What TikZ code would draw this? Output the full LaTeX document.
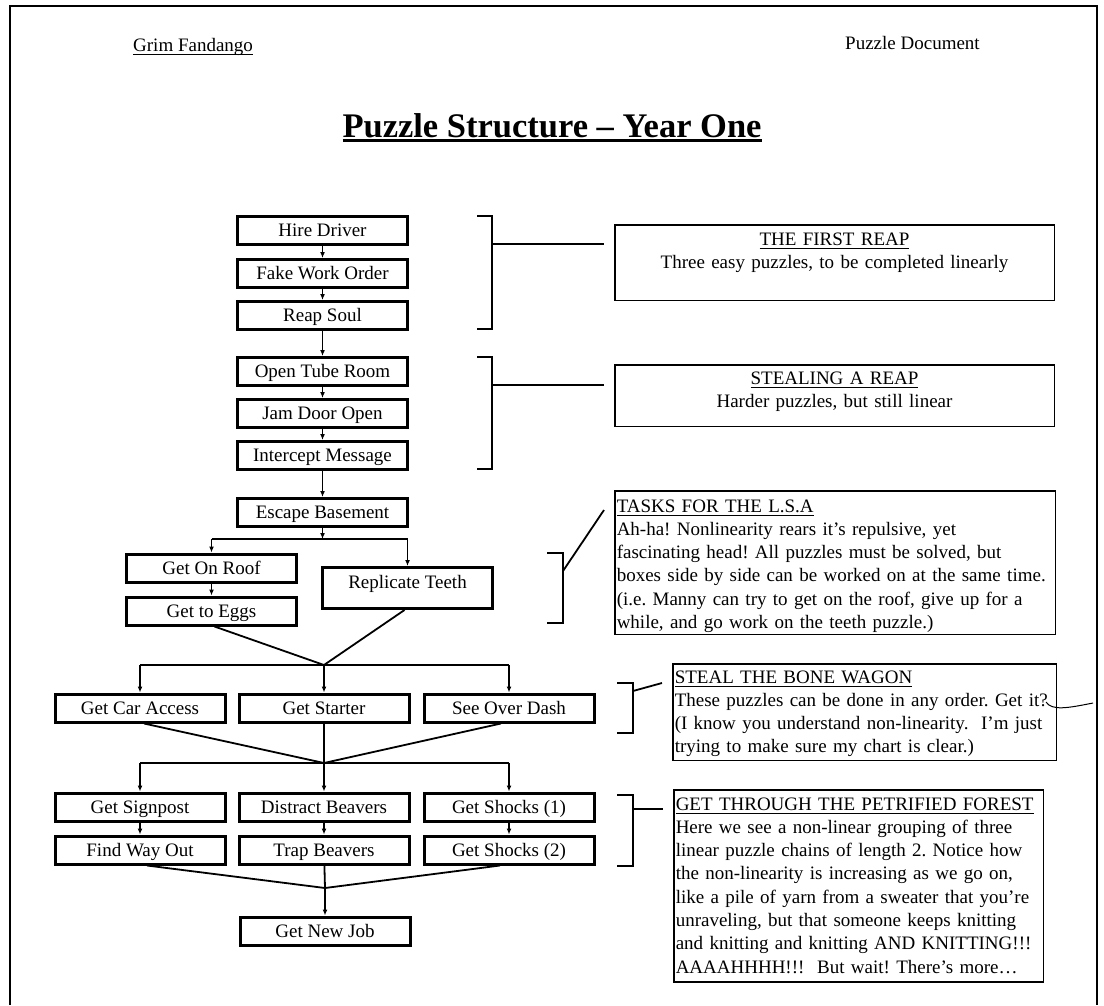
\documentclass[tikz,border=0pt]{standalone}
\usepackage{fontspec}
\setmainfont{Liberation Serif}
\usetikzlibrary{positioning, arrows.meta}
\newlength\ulwidth
\newcommand{\ulined}[2][1pt]{\settowidth{\ulwidth}{#2}\rlap{\rule[\dimexpr-3.5pt-#1/2\relax]{\ulwidth}{#1}}#2}
\tikzstyle{puzzle} = [draw, rectangle, line width=3pt, minimum width=170pt, minimum height=28pt, inner sep=0pt, text height=20pt, text depth=8pt]
\tikzstyle{teethbox} = [text height=20.5pt, text depth=20.5pt]
\tikzstyle{note} = [draw, rectangle, line width=1.5pt, inner xsep=2pt, inner ysep=0pt, anchor=north west, execute at begin node={\hyphenpenalty=10000\exhyphenpenalty=10000}]
\tikzstyle{flow} = [line width=1.5pt, -{Latex[length=6pt, width=5pt]}]
\tikzstyle{link} = [line width=1.8pt]
\tikzstyle{bracket} = [line width=2pt]

\begin{document}
\frenchspacing
\begin{tikzpicture}[x=1pt, y=-1pt, font=\fontsize{19}{23.3}\selectfont]
	\useasboundingbox (0,0) rectangle (1104,1005);
	\fill[white] (0,0) rectangle (1104,1005);
	%page frame
	\draw[line width=2pt] (9.5,1005) -- (9.5,6) -- (1097,6) -- (1097,1005);

	%header
	\node[inner sep=0pt, anchor=base west] (game) at (133,51) {\ulined[1.2pt]{Grim Fandango}};
	\node[inner sep=0pt, anchor=base west] (doctype) at (845,49) {Puzzle Document};
	\node[inner sep=0pt, anchor=base, font=\bfseries\fontsize{34.5}{40}\selectfont] (title) at (552,137) {\ulined[2.4pt]{Puzzle Structure – Year One}};

	%puzzles
	\node[puzzle] (hire) at (322.5,230.5) {Hire Driver};
	\node[puzzle, below=12pt of hire] (fakeorder) {Fake Work Order};
	\node[puzzle, below=11pt of fakeorder] (reapsoul) {Reap Soul};
	\node[puzzle, below=25pt of reapsoul] (tuberoom) {Open Tube Room};
	\node[puzzle, below=11pt of tuberoom] (jamdoor) {Jam Door Open};
	\node[puzzle, below=11pt of jamdoor] (intercept) {Intercept Message};
	\node[puzzle, below=26pt of intercept] (basement) {Escape Basement};
	\node[puzzle] (roof) at (211.5,568) {Get On Roof};
	\node[puzzle, below=12pt of roof] (eggs) {Get to Eggs};
	\node[puzzle, teethbox] (teeth) at (407.5,588) {Replicate Teeth};
	\node[puzzle] (starter) at (324,708) {Get Starter};
	\node[puzzle, left=11pt of starter] (caraccess) {Get Car Access};
	\node[puzzle, right=12pt of starter] (overdash) {See Over Dash};
	\node[puzzle] (beavers) at (324,807) {Distract Beavers};
	\node[puzzle, left=11pt of beavers] (signpost) {Get Signpost};
	\node[puzzle, right=12pt of beavers] (shocksone) {Get Shocks (1)};
	\node[puzzle, below=12pt of signpost] (wayout) {Find Way Out};
	\node[puzzle, below=12pt of beavers] (trap) {Trap Beavers};
	\node[puzzle, below=12pt of shocksone] (shockstwo) {Get Shocks (2)};
	\node[puzzle] (newjob) at (325,931) {Get New Job};

	%connections
	\draw[flow] (hire) -- (fakeorder);
	\draw[flow] (fakeorder) -- (reapsoul);
	\draw[flow] (reapsoul) -- (tuberoom);
	\draw[flow] (tuberoom) -- (jamdoor);
	\draw[flow] (jamdoor) -- (intercept);
	\draw[flow] (intercept) -- (basement);
	\coordinate (splitone) at (322.5,539);
	\draw[flow] (basement) -- (splitone);
	\draw[link] (splitone -| roof) -- (splitone -| teeth);
	\draw[flow] (splitone -| roof) -- (roof);
	\draw[flow] (splitone -| teeth) -- (teeth);
	\draw[flow] (roof) -- (eggs);
	\coordinate (joinone) at (324,665);
	\draw[link] ([xshift=3pt]eggs.south) -- (joinone) -- ([xshift=-3pt]teeth.south);
	\draw[link] (joinone -| caraccess) -- (joinone -| overdash);
	\draw[flow] (joinone -| caraccess) -- (caraccess);
	\draw[flow] (joinone) -- (starter);
	\draw[flow] (joinone -| overdash) -- (overdash);
	\coordinate (jointwo) at (324,763);
	\draw[link] ([xshift=4pt]caraccess.south) -- (jointwo) -- ([xshift=-8pt]overdash.south);
	\draw[link] (starter) -- (jointwo);
	\draw[link] (jointwo -| signpost) -- (jointwo -| shocksone);
	\draw[flow] (jointwo -| signpost) -- (signpost);
	\draw[flow] (jointwo) -- (beavers);
	\draw[flow] (jointwo -| shocksone) -- (shocksone);
	\draw[flow] (signpost) -- (wayout);
	\draw[flow] (beavers) -- (trap);
	\draw[flow] (shocksone) -- (shockstwo);
	\coordinate (jointhree) at (325,888);
	\draw[link] ([xshift=7pt]wayout.south) -- (jointhree) -- ([xshift=-9pt]shockstwo.south);
	\draw[link] (trap) -- (jointhree);
	\draw[flow] (jointhree) -- (newjob);

	%notes
	\node[note, text width=435.5pt, align=center, text height=20.25pt, text depth=55.25pt] (reapone) at (614,224) {\ulined{THE FIRST REAP}\\Three easy puzzles, to be completed linearly};
	\node[note, text width=435.5pt, align=center, text height=19.25pt, text depth=42.25pt] (reaptwo) at (614,364) {\ulined{STEALING A REAP}\\Harder puzzles, but still linear};
	\node[note, text width=436.5pt, align=left, text height=21.25pt, text depth=122.25pt] (tasks) at (614,490) {\ulined{TASKS FOR THE L.S.A}\\Ah-ha! Nonlinearity rears it’s repulsive, yet\\fascinating head! All puzzles must be solved, but\\boxes side by side can be worked on at the same time.\\(i.e. Manny can try to get on the roof, give up for a\\while, and go work on the teeth puzzle.)};
	\node[note, text width=379.5pt, align=left, text height=19.25pt, text depth=77.25pt] (bone) at (672,663) {\ulined{STEAL THE BONE WAGON}\\These puzzles can be done in any order. Get it?\\(I know you understand non-linearity.\ \ I’m just\\trying to make sure my chart is clear.)};
	\node[note, text width=365.5pt, align=left, text height=20.25pt, text depth=172pt] (forest) at (673,789) {\ulined{GET THROUGH THE PETRIFIED FOREST}\\Here we see a non-linear grouping of three\\linear puzzle chains of length 2. Notice how\\the non-linearity is increasing as we go on,\\like a pile of yarn from a sweater that you’re\\unraveling, but that someone keeps knitting\\and knitting and knitting AND KNITTING!!!\\AAAAHHHH!!!\ \ But wait! There’s more…};

	%brackets
	\draw[bracket] (477,216) -| (492,329) -- (477,329);
	\coordinate (bracketone) at (492,244);
	\draw[link, shorten >=10pt] (bracketone) -- (bracketone -| reapone.west);
	\draw[bracket] (477,357) -| (492,469) -- (477,469);
	\coordinate (brackettwo) at (492,385);
	\draw[link, shorten >=10pt] (brackettwo) -- (brackettwo -| reaptwo.west);
	\draw[bracket] (547,553) -| (563,623) -- (547,623);
	\coordinate (bracketthree) at (563,571);
	\draw[link] (bracketthree) -- ([xshift=-10pt, yshift=-20pt]tasks.north west);
	\draw[bracket] (617,683) -| (633,733) -- (617,733);
	\coordinate (bracketfour) at (633,691);
	\draw[link] (bracketfour) -- ([xshift=-10pt, yshift=-20pt]bone.north west);
	\draw[bracket] (617,795) -| (633,866) -- (617,866);
	\coordinate (bracketfive) at (633,809);
	\draw[link] (bracketfive) -- ([xshift=-10pt, yshift=-20pt]forest.north west);

	%stray squiggle
	\coordinate (getit) at ([xshift=-11pt, yshift=-39pt]bone.north east);
	\coordinate (getitend) at (1093,703);
	\draw[line width=1pt] (getit) .. controls +(6pt,-9pt) and +(-25pt,-5pt) .. (getitend);
\end{tikzpicture}
\end{document}
